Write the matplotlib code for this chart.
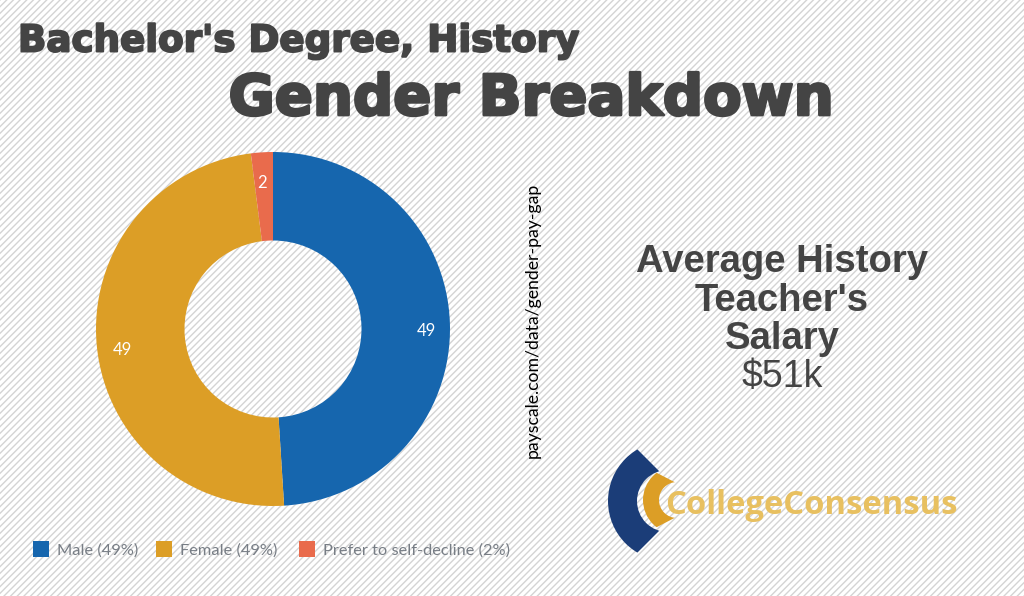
import matplotlib.pyplot as plt
from matplotlib.patches import Rectangle, Wedge, Polygon
import matplotlib.patheffects as pe


labels = ['Male (49%)', 'Female (49%)', 'Prefer to self-decline (2%)']
values = [49, 49, 2]
colors = ['#1666ae', '#dc9e26', '#e96b4c']
dark = '#444444'

plt.rcParams['hatch.color'] = '#d4d4d4'
plt.rcParams['hatch.linewidth'] = 1.0

fig = plt.figure(figsize=(10.24, 5.96), dpi=100)

# whole page in pixels, y counted upward
bg = fig.add_axes([0, 0, 1, 1])
bg.set_xlim(0, 1024)
bg.set_ylim(0, 596)
bg.axis('off')
bg.add_patch(Rectangle((0, 0), 1024, 596, facecolor='white', edgecolor='#d4d4d4', linewidth=0, hatch='/////'))

bg.text(18, 596 - 41, "Bachelor's Degree, History", fontsize=26.8, family='DejaVu Sans', weight='bold', color=dark, va='center', path_effects=[pe.withStroke(linewidth=1.4, foreground=dark)])
bg.text(531, 596 - 100, 'Gender Breakdown', fontsize=40.5, family='DejaVu Sans', weight='bold', color=dark, ha='center', va='center', path_effects=[pe.withStroke(linewidth=2, foreground=dark)])

bg.text(782, 596 - 262, 'Average History', fontsize=27.5, family='Liberation Sans', weight='bold', color=dark, ha='center', va='center')
bg.text(782, 596 - 301, "Teacher's", fontsize=27.5, family='Liberation Sans', weight='bold', color=dark, ha='center', va='center')
bg.text(782, 596 - 339, 'Salary', fontsize=27.5, family='Liberation Sans', weight='bold', color=dark, ha='center', va='center')
bg.text(782, 596 - 377, r'\$51k', fontsize=27, family='Liberation Sans', color=dark, ha='center', va='center')

bg.text(533, 596 - 320, 'payscale.com/data/gender-pay-gap', fontsize=12.7, family='Lato', color='black', rotation=90, ha='center', va='center')

# logo
tri1 = Polygon([(689, 95), (589, 195), (589, -5)], transform=bg.transData, visible=False)
bg.add_patch(tri1)
arc1 = Wedge((668, 95), 60, 90, 270, width=29, facecolor='#1b3d78', edgecolor='none')
bg.add_patch(arc1)
arc1.set_clip_path(tri1)
tri2 = Polygon([(709, 96), (609, 148), (609, 44)], transform=bg.transData, visible=False)
bg.add_patch(tri2)
arc2 = Wedge((677, 96), 34, 90, 270, width=16, facecolor='#dc9e26', edgecolor='none')
bg.add_patch(arc2)
arc2.set_clip_path(tri2)
bg.text(665, 596 - 505, 'CollegeConsensus', fontsize=23.6, family='Open Sans', weight='bold', color='#e8c060', va='center')

# donut
ax = fig.add_axes([96 / 1024, 90 / 596, 354 / 1024, 354 / 596])
wedges, texts = ax.pie(values, colors=colors, startangle=90, counterclock=False, radius=1, wedgeprops={'width': 0.5, 'linewidth': 0})
ax.set_xlim(-1, 1)
ax.set_ylim(-1, 1)
ax.text(0.865, -0.01, str(values[0]), color='white', fontsize=12, family='Lato', ha='center', va='center')
ax.text(-0.85, -0.12, str(values[1]), color='white', fontsize=12, family='Lato', ha='center', va='center')
ax.text(-0.06, 0.825, str(values[2]), color='white', fontsize=12, family='Lato', ha='center', va='center')

# legend
xs = [33, 156, 299]
for i in range(3):
    bg.add_patch(Rectangle((xs[i], 596 - 557), 16, 16, facecolor=colors[i], edgecolor='none'))
    bg.text(xs[i] + 24, 596 - 551, labels[i], fontsize=11.8, family='Lato', color='#777d85', va='center')

plt.savefig('out.png', dpi=100)
